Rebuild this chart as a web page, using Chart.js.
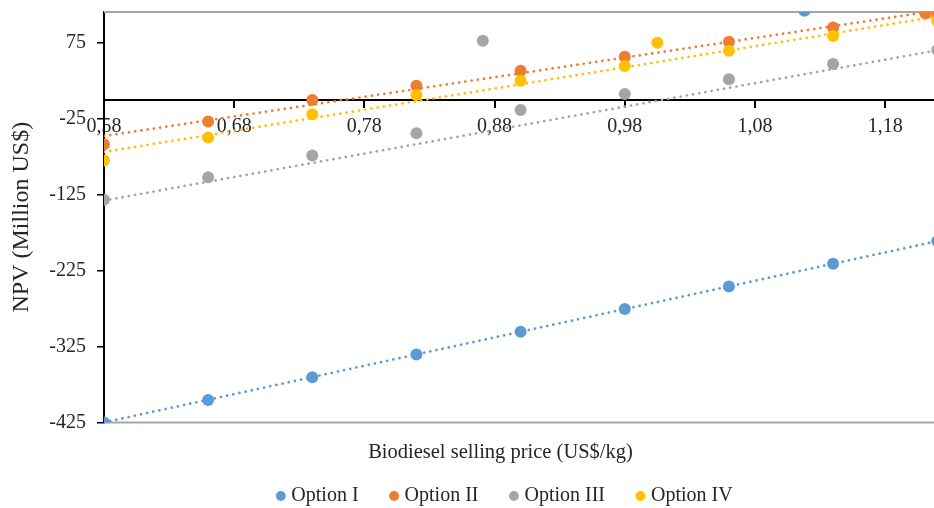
<!DOCTYPE html>
<html><head><meta charset="utf-8">
<script src="https://cdn.jsdelivr.net/npm/chart.js@4.4.0/dist/chart.umd.min.js"></script>
<style>html,body{margin:0;padding:0;background:#fff;} #wrap{width:934px;height:508px;position:relative;}</style>
</head><body><div id="wrap"><canvas id="c"></canvas></div>
<script>
const prices = [0.58, 0.66, 0.74, 0.82, 0.90, 0.98, 1.06, 1.14, 1.22];
const optionI = [-425, -395.5, -365.5, -335.5, -305.5, -275.5, -246, -215.8, -186];
const optionII = [-58.3, -28.5, 0, 18.8, 38.6, 57, 76.7, 95.6, 114];
const optionIII = [-131.6, -102, -73.3, -43.8, -13.2, 7.9, 27.2, 47.4, 65.8];
const optionIV = [-79.8, -49.6, -18.9, 6.6, 25.4, 44.7, 64.9, 84.2, 104];
const extraPrice = [1.118, 1.211, 0.871, 1.005];
const extraNpv = [117.5, 114, 78, 75.4];
const trendPrices = [0.58, 1.22];
const trendI = [-425, -186];
const trendII = [-47.5, 118];
const trendIII = [-132.5, 65.5];
const trendIV = [-68.5, 110];
const seriesNames = ['Option I', 'Option II', 'Option III', 'Option IV'];
const xTicks = [0.58, 0.68, 0.78, 0.88, 0.98, 1.08, 1.18];
const yTicks = [-425, -325, -225, -125, -25, 75];

const colors = ['#5B9BD5', '#ED7D31', '#A5A5A5', '#FFC000'];
const FONT = 'Liberation Serif, Times New Roman, serif';
const TXT = '#262626';

const seriesValues = [optionI, optionII, optionIII, optionIV];
const trendValues = [trendI, trendII, trendIII, trendIV];

const datasets = [];
seriesValues.forEach((vals, i) => {
  const pts = prices.map((p, k) => ({x: p, y: vals[k]}));
  pts.push({x: extraPrice[i], y: extraNpv[i]});
  datasets.push({
    type: 'scatter', label: seriesNames[i], data: pts,
    backgroundColor: colors[i], borderColor: colors[i], borderWidth: 0,
    pointRadius: 6, pointHoverRadius: 6, pointStyle: 'circle', order: 4 - i
  });
});
trendValues.forEach((vals, i) => {
  datasets.push({
    type: 'line', label: seriesNames[i] + ' trend',
    data: trendPrices.map((p, k) => ({x: p, y: vals[k]})),
    borderColor: colors[i], borderWidth: 2.7, borderDash: [0.1, 6.2], borderCapStyle: 'round',
    pointRadius: 0, fill: false, tension: 0, order: 10 + i
  });
});

const plotBorder = {
  id: 'plotBorder',
  afterLayout(chart) {
    if (chart.legend) { chart.legend.left += 75; }
    if (chart.titleBlock) { chart.titleBlock.left += 63; }
  },
  beforeDatasetsDraw(chart) {
    const {ctx, chartArea: a} = chart;
    ctx.save();
    ctx.strokeStyle = '#A6A6A6';
    ctx.lineWidth = 2;
    ctx.beginPath();
    ctx.moveTo(a.left, a.top); ctx.lineTo(a.right, a.top);
    ctx.moveTo(a.left, a.bottom); ctx.lineTo(a.right, a.bottom);
    ctx.stroke();
    ctx.restore();
  }
};

const zeroPad = (s) => { s.paddingTop = 0; s.paddingBottom = 0; s.paddingLeft = 0; s.paddingRight = 0; };

new Chart(document.getElementById('c'), {
  type: 'scatter',
  data: {datasets},
  plugins: [plotBorder],
  options: {
    responsive: true, maintainAspectRatio: false, animation: false,
    layout: {autoPadding: false, padding: {left: 4, top: 12, right: 0, bottom: -8}},
    plugins: {
      tooltip: {enabled: false},
      title: {
        display: true, position: 'bottom', weight: 500,
        text: 'Biodiesel selling price (US$/kg)',
        font: {family: FONT, size: 20.5, weight: 'normal'}, color: TXT,
        padding: {top: 18, bottom: -14}
      },
      legend: {
        position: 'bottom',
        labels: {
          usePointStyle: true, pointStyle: 'circle', boxWidth: 1, boxHeight: 7, padding: 35,
          font: {family: FONT, size: 20}, color: TXT,
          filter: (item) => item.datasetIndex < 4,
          sort: (a, b) => a.datasetIndex - b.datasetIndex
        }
      }
    },
    scales: {
      x: {
        type: 'linear', position: {y: 0}, min: 0.58, max: 1.2175,
        afterBuildTicks: (s) => { s.ticks = xTicks.map(v => ({value: v})); },
        afterFit: zeroPad,
        ticks: {
          callback: (v) => Number(v).toFixed(2).replace('.', ','),
          font: {family: FONT, size: 20}, color: TXT, padding: 8, maxRotation: 0, autoSkip: false
        },
        grid: {display: true, drawOnChartArea: false, drawTicks: true, tickLength: 7, color: '#000', lineWidth: 2},
        border: {display: true, color: '#000', width: 2}
      },
      y: {
        type: 'linear', position: 'left', min: -425, max: 116,
        afterBuildTicks: (s) => { s.ticks = yTicks.map(v => ({value: v})); },
        afterFit: zeroPad,
        ticks: {font: {family: FONT, size: 20}, color: TXT, padding: 11, autoSkip: false},
        grid: {display: true, drawOnChartArea: false, drawTicks: true, tickLength: 7, color: '#000', lineWidth: 1.5},
        border: {display: true, color: '#000', width: 2},
        title: {
          display: true, text: 'NPV (Million US$)',
          font: {family: FONT, size: 24}, color: TXT, padding: {top: 3.6, bottom: 1.9}
        }
      }
    }
  }
});
</script>
</body></html>
